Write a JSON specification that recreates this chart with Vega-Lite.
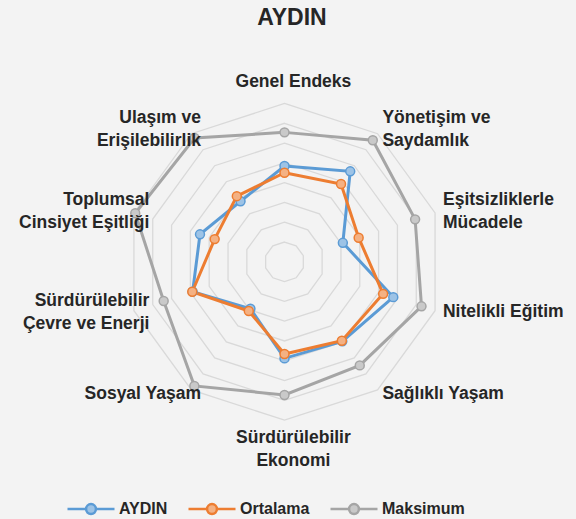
{
  "$schema": "https://vega.github.io/schema/vega-lite/v6.json",
  "width": 576,
  "height": 464,
  "autosize": "none",
  "padding": {"left": 0, "top": 30, "right": 0, "bottom": 25},
  "background": "#f3f3f3",
  "title": {"text": "AYDIN", "font": "Liberation Sans", "fontSize": 23, "fontWeight": "bold", "color": "#262626", "anchor": "middle", "offset": 6.5, "baseline": "alphabetic", "dx": 4, "dy": 24},
  "config": {"view": {"stroke": null}},
  "datasets": {
    "series": [
      {"i": 0, "s": "AYDIN", "v": 48.4},
      {"i": 1, "s": "AYDIN", "v": 56.5},
      {"i": 2, "s": "AYDIN", "v": 31.0},
      {"i": 3, "s": "AYDIN", "v": 57.8},
      {"i": 4, "s": "AYDIN", "v": 49.7},
      {"i": 5, "s": "AYDIN", "v": 48.8},
      {"i": 6, "s": "AYDIN", "v": 29.3},
      {"i": 7, "s": "AYDIN", "v": 48.8},
      {"i": 8, "s": "AYDIN", "v": 44.9},
      {"i": 9, "s": "AYDIN", "v": 37.8},
      {"i": 0, "s": "Ortalama", "v": 45.0},
      {"i": 1, "s": "Ortalama", "v": 48.6},
      {"i": 2, "s": "Ortalama", "v": 39.4},
      {"i": 3, "s": "Ortalama", "v": 52.4},
      {"i": 4, "s": "Ortalama", "v": 49.3},
      {"i": 5, "s": "Ortalama", "v": 46.6},
      {"i": 6, "s": "Ortalama", "v": 30.7},
      {"i": 7, "s": "Ortalama", "v": 49.0},
      {"i": 8, "s": "Ortalama", "v": 37.1},
      {"i": 9, "s": "Ortalama", "v": 41.0},
      {"i": 0, "s": "Maksimum", "v": 65.4},
      {"i": 1, "s": "Maksimum", "v": 75.9},
      {"i": 2, "s": "Maksimum", "v": 69.4},
      {"i": 3, "s": "Maksimum", "v": 72.8},
      {"i": 4, "s": "Maksimum", "v": 64.7},
      {"i": 5, "s": "Maksimum", "v": 67.3},
      {"i": 6, "s": "Maksimum", "v": 77.5},
      {"i": 7, "s": "Maksimum", "v": 64.2},
      {"i": 8, "s": "Maksimum", "v": 79.3},
      {"i": 9, "s": "Maksimum", "v": 77.3}
    ],
    "axes": [
      {"i": 0, "k": "Genel Endeks", "lv": [10, 20, 30, 40, 50, 60, 70, 80]},
      {"i": 1, "k": "Yönetişim ve\nSaydamlık", "lv": [10, 20, 30, 40, 50, 60, 70, 80]},
      {"i": 2, "k": "Eşitsizliklerle\nMücadele", "lv": [10, 20, 30, 40, 50, 60, 70, 80]},
      {"i": 3, "k": "Nitelikli Eğitim", "lv": [10, 20, 30, 40, 50, 60, 70, 80]},
      {"i": 4, "k": "Sağlıklı Yaşam", "lv": [10, 20, 30, 40, 50, 60, 70, 80]},
      {"i": 5, "k": "Sürdürülebilir\nEkonomi", "lv": [10, 20, 30, 40, 50, 60, 70, 80]},
      {"i": 6, "k": "Sosyal Yaşam", "lv": [10, 20, 30, 40, 50, 60, 70, 80]},
      {"i": 7, "k": "Sürdürülebilir\nÇevre ve Enerji", "lv": [10, 20, 30, 40, 50, 60, 70, 80]},
      {"i": 8, "k": "Toplumsal\nCinsiyet Eşitliği", "lv": [10, 20, 30, 40, 50, 60, 70, 80]},
      {"i": 9, "k": "Ulaşım ve\nErişilebilirlik", "lv": [10, 20, 30, 40, 50, 60, 70, 80]}
    ]
  },
  "layer": [
    {
      "data": {"name": "axes"},
      "transform": [
        {"flatten": ["lv"]},
        {"calculate": "datum.i * PI / 5", "as": "t"},
        {"calculate": "datum.lv * sin(datum.t)", "as": "x"},
        {"calculate": "datum.lv * cos(datum.t)", "as": "y"}
      ],
      "mark": {"type": "line", "interpolate": "linear-closed", "stroke": "#d9d9d9", "strokeWidth": 1.3},
      "encoding": {
        "x": {"field": "x", "type": "quantitative", "scale": {"domain": [-143.76, 147.3], "nice": false, "zero": false}, "axis": null},
        "y": {"field": "y", "type": "quantitative", "scale": {"domain": [-117.33, 117.13], "nice": false, "zero": false}, "axis": null},
        "detail": {"field": "lv", "type": "nominal"},
        "order": {"field": "i", "type": "quantitative"}
      }
    },
    {
      "data": {"name": "series"},
      "transform": [
        {"calculate": "datum.i * PI / 5", "as": "t"},
        {"calculate": "datum.v * sin(datum.t)", "as": "x"},
        {"calculate": "datum.v * cos(datum.t)", "as": "y"}
      ],
      "mark": {"type": "line", "interpolate": "linear-closed", "strokeWidth": 3},
      "encoding": {
        "x": {"field": "x", "type": "quantitative"},
        "y": {"field": "y", "type": "quantitative"},
        "stroke": {"field": "s", "type": "nominal", "scale": {"domain": ["AYDIN", "Ortalama", "Maksimum"], "range": ["#5b9bd5", "#ed7d31", "#a5a5a5"]}},
        "order": {"field": "i", "type": "quantitative"}
      }
    },
    {
      "data": {"name": "series"},
      "transform": [
        {"calculate": "datum.i * PI / 5", "as": "t"},
        {"calculate": "datum.v * sin(datum.t)", "as": "x"},
        {"calculate": "datum.v * cos(datum.t)", "as": "y"}
      ],
      "mark": {"type": "point", "filled": true, "size": 80, "strokeWidth": 1.5, "opacity": 1},
      "encoding": {
        "x": {"field": "x", "type": "quantitative"},
        "y": {"field": "y", "type": "quantitative"},
        "stroke": {"field": "s", "type": "nominal", "scale": {"domain": ["AYDIN", "Ortalama", "Maksimum"], "range": ["#5b9bd5", "#ed7d31", "#a5a5a5"]},
          "legend": {"title": null, "orient": "none", "legendX": 66, "legendY": 454, "direction": "horizontal", "columns": 3, "symbolType": "M-1,0L-0.21,0M0.21,0L1,0M0.21,0A0.21,0.21,0,1,1,-0.21,0A0.21,0.21,0,1,1,0.21,0", "symbolSize": 2209, "symbolStrokeWidth": 2.5, "symbolOpacity": 1, "labelFont": "Liberation Sans", "labelFontSize": 16, "labelFontWeight": "bold", "labelColor": "#262626", "labelOffset": 3, "columnPadding": 15}},
        "fill": {"field": "s", "type": "nominal", "scale": {"domain": ["AYDIN", "Ortalama", "Maksimum"], "range": ["#9dc3e6", "#f4b183", "#c9c9c9"]},
          "legend": {"title": null, "orient": "none", "legendX": 66, "legendY": 454, "direction": "horizontal", "columns": 3, "symbolType": "M-1,0L-0.21,0M0.21,0L1,0M0.21,0A0.21,0.21,0,1,1,-0.21,0A0.21,0.21,0,1,1,0.21,0", "symbolSize": 2209, "symbolStrokeWidth": 2.5, "symbolOpacity": 1, "labelFont": "Liberation Sans", "labelFontSize": 16, "labelFontWeight": "bold", "labelColor": "#262626", "labelOffset": 3, "columnPadding": 15}}
      }
    },
    {
      "data": {"name": "axes"},
      "transform": [
        {"calculate": "datum.i * PI / 5", "as": "t"},
        {"filter": "sin(datum.t) > 0.3"},
        {"calculate": "84.2 * sin(datum.t)", "as": "x"},
        {"calculate": "82.5 * cos(datum.t) + (indexof(datum.k, '\\n') >= 0 ? 5.8 : 0)", "as": "y"}
      ],
      "mark": {"type": "text", "align": "left", "baseline": "middle", "font": "Liberation Sans", "fontSize": 17.5, "fontWeight": "bold", "color": "#262626", "lineBreak": "\n", "lineHeight": 23},
      "encoding": {
        "x": {"field": "x", "type": "quantitative"},
        "y": {"field": "y", "type": "quantitative"},
        "text": {"field": "k", "type": "nominal"}
      }
    },
    {
      "data": {"name": "axes"},
      "transform": [
        {"calculate": "datum.i * PI / 5", "as": "t"},
        {"filter": "sin(datum.t) < -0.3"},
        {"calculate": "71.8 * sin(datum.t)", "as": "x"},
        {"calculate": "82.5 * cos(datum.t) + (indexof(datum.k, '\\n') >= 0 ? 5.8 : 0)", "as": "y"}
      ],
      "mark": {"type": "text", "align": "right", "baseline": "middle", "font": "Liberation Sans", "fontSize": 17.5, "fontWeight": "bold", "color": "#262626", "lineBreak": "\n", "lineHeight": 23},
      "encoding": {
        "x": {"field": "x", "type": "quantitative"},
        "y": {"field": "y", "type": "quantitative"},
        "text": {"field": "k", "type": "nominal"}
      }
    },
    {
      "data": {"name": "axes"},
      "transform": [
        {"calculate": "datum.i * PI / 5", "as": "t"},
        {"filter": "abs(sin(datum.t)) <= 0.3"},
        {"calculate": "4.5", "as": "x"},
        {"calculate": "cos(datum.t) > 0 ? 91 : -89", "as": "y"}
      ],
      "mark": {"type": "text", "align": "center", "baseline": "middle", "font": "Liberation Sans", "fontSize": 17.5, "fontWeight": "bold", "color": "#262626", "lineBreak": "\n", "lineHeight": 23},
      "encoding": {
        "x": {"field": "x", "type": "quantitative"},
        "y": {"field": "y", "type": "quantitative"},
        "text": {"field": "k", "type": "nominal"}
      }
    }
  ]
}
